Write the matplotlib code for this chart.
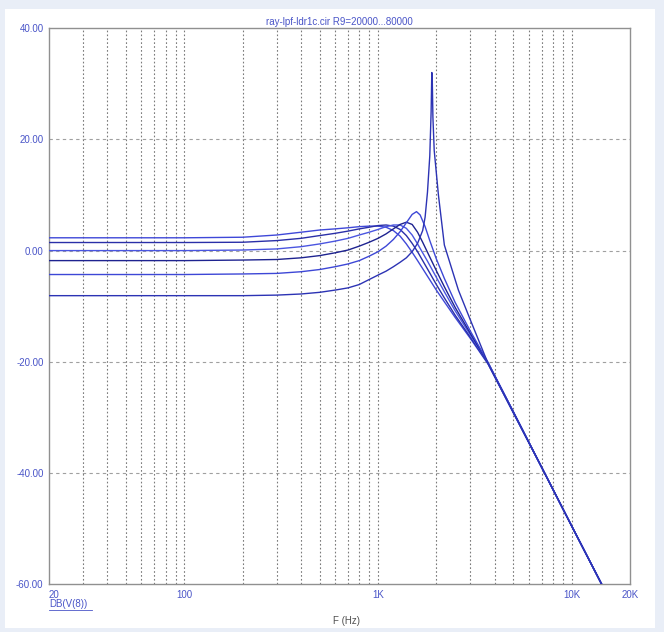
import matplotlib
matplotlib.use("Agg")
import matplotlib.pyplot as plt
from matplotlib.patches import Rectangle

# frequency (Hz) / gain (dB), one list pair per R9 step
freq_a = [20, 100, 200, 300, 400, 500, 600, 700, 800, 900, 1000, 1100, 1200, 1300, 1400, 1500, 1600, 1800, 2000, 2200, 2500, 3000, 3700, 5000, 7300, 10000, 14300]
db_a = [2.3, 2.3, 2.4, 2.8, 3.3, 3.7, 3.9, 4.1, 4.3, 4.4, 4.4, 4.2, 3.6, 2.6, 1.2, -0.3, -1.8, -4.6, -7.1, -9.2, -12.0, -15.8, -20.4, -29.2, -40.2, -49.5, -60.0]

freq_b = [20, 100, 200, 300, 400, 500, 600, 700, 800, 900, 1000, 1100, 1200, 1300, 1400, 1500, 1600, 1800, 2000, 2200, 2500, 3000, 3700, 5000, 7300, 10000, 14300]
db_b = [1.45, 1.45, 1.5, 1.8, 2.2, 2.7, 3.1, 3.5, 3.9, 4.2, 4.5, 4.6, 4.4, 3.8, 2.7, 1.3, -0.2, -3.3, -6.1, -8.5, -11.6, -15.6, -20.3, -29.1, -40.2, -49.5, -60.0]

freq_c = [20, 100, 200, 300, 400, 500, 600, 700, 800, 900, 1000, 1100, 1200, 1300, 1400, 1500, 1600, 1700, 1800, 2000, 2200, 2500, 3000, 3700, 5000, 7300, 10000, 14300]
db_c = [0.0, 0.0, 0.1, 0.3, 0.7, 1.2, 1.7, 2.2, 2.8, 3.3, 3.8, 4.3, 4.6, 4.6, 4.0, 2.8, 1.2, -0.4, -1.9, -4.8, -7.4, -10.8, -15.2, -20.2, -29.0, -40.2, -49.5, -60.0]

freq_d = [20, 100, 200, 300, 400, 500, 600, 700, 800, 900, 1000, 1100, 1200, 1300, 1400, 1500, 1600, 1700, 1800, 2000, 2200, 2500, 3000, 3700, 5000, 7300, 10000, 14300]
db_d = [-1.8, -1.8, -1.7, -1.6, -1.3, -0.9, -0.4, 0.1, 0.8, 1.5, 2.2, 3.0, 3.9, 4.7, 5.1, 4.7, 3.3, 1.5, -0.3, -3.6, -6.5, -10.2, -14.9, -20.2, -29.0, -40.2, -49.5, -60.0]

freq_e = [20, 100, 200, 300, 400, 500, 600, 700, 800, 900, 1000, 1100, 1200, 1300, 1400, 1500, 1580, 1650, 1750, 1850, 2000, 2200, 2500, 3000, 3700, 5000, 7300, 10000, 14300]
db_e = [-4.3, -4.3, -4.2, -4.1, -3.8, -3.4, -2.9, -2.4, -1.8, -1.0, -0.2, 0.8, 2.0, 3.4, 5.0, 6.5, 7.0, 6.4, 4.3, 1.8, -1.5, -5.0, -9.3, -14.5, -20.1, -29.0, -40.2, -49.5, -60.0]

freq_f = [20, 100, 200, 300, 400, 500, 600, 700, 800, 900, 1000, 1100, 1200, 1300, 1400, 1500, 1600, 1700, 1750, 1800, 1850, 1880, 1895, 1905, 1920, 1950, 2050, 2200, 2600, 3000, 3700, 5000, 7300, 10000, 14300]
db_f = [-8.1, -8.1, -8.1, -8.0, -7.8, -7.5, -7.1, -6.7, -6.1, -5.2, -4.4, -3.7, -2.9, -2.1, -1.3, -0.2, 1.3, 3.6, 6.0, 10.5, 17.0, 25.0, 32.0, 31.0, 24.0, 18.0, 10.0, 1.0, -7.1, -12.5, -20.3, -29.1, -40.2, -49.5, -60.0]

series = [(freq_a, db_a), (freq_b, db_b), (freq_c, db_c), (freq_d, db_d), (freq_e, db_e), (freq_f, db_f)]
colors = ["#3f48d8", "#2a2fa8", "#4a55e0", "#1e2390", "#3d47d6", "#2c33b4"]

x_ticks = [20, 100, 1000, 10000, 20000]
x_labels = ["20", "100", "1K", "10K", "20K"]
y_ticks = [-60, -40, -20, 0, 20, 40]
y_labels = ["-60.00", "-40.00", "-20.00", "0.00", "20.00", "40.00"]

plt.rcParams["font.family"] = ["Liberation Sans", "DejaVu Sans"]
label_color = "#4a55c8"

fig = plt.figure(figsize=(6.64, 6.32), dpi=100)
fig.patch.set_facecolor("#e9eef7")
# white sheet behind the plot
fig.add_artist(Rectangle((0.008, 0.006), 0.979, 0.979, transform=fig.transFigure,
                         facecolor="white", edgecolor="none", zorder=0))

ax = fig.add_axes([0.0738, 0.0752, 0.875, 0.8805])
ax.set_facecolor("white")
ax.set_xscale("log")
ax.set_xlim(20, 20000)
ax.set_ylim(-60, 40)

# grid: dotted verticals on every decade step, dashed horizontals every 20 dB
for dec in [10, 100, 1000, 10000]:
    for m in range(1, 10):
        v = dec * m
        if 20 < v < 20000:
            ax.axvline(v, color="#7a7a7a", lw=0.8, ls=(0, (1.5, 2.0)), zorder=1)
for yv in [-40, -20, 0, 20]:
    ax.axhline(yv, color="#a0a0a0", lw=0.8, ls=(0, (3, 3)), zorder=1)

for (fr, db), c in zip(series, colors):
    ax.plot(fr, db, color=c, lw=1.0, zorder=3)

for s in ax.spines.values():
    s.set_color("#909090")
    s.set_linewidth(1.0)

ax.set_xticks(x_ticks)
ax.set_xticklabels(x_labels)
ax.set_xticks([], minor=True)
ax.set_yticks(y_ticks)
ax.set_yticklabels(y_labels)
ax.tick_params(axis="both", length=0, labelsize=7, labelcolor=label_color)
ax.tick_params(axis="x", pad=4)
ax.tick_params(axis="y", pad=4)
ax.get_xticklabels()[0].set_horizontalalignment("left")

ax.set_title("ray-lpf-ldr1c.cir R9=20000...80000", fontsize=7, color=label_color, pad=2)
fig.text(0.0738, 0.044, "DB(V(8))", fontsize=7, color=label_color, ha="left", va="center")
fig.add_artist(plt.Line2D([0.0738, 0.1385], [0.0355, 0.0355], color=label_color, lw=0.6))
fig.text(0.522, 0.017, "F (Hz)", fontsize=7, color="#505050", ha="center", va="center")

fig.savefig("out.png", dpi=100)
